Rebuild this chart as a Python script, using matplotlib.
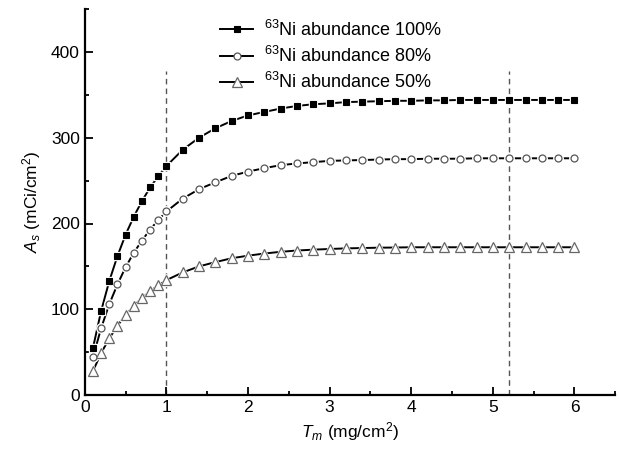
import numpy as np
import matplotlib.pyplot as plt
from matplotlib.ticker import MultipleLocator

plt.rcParams["font.family"] = ["Liberation Sans", "DejaVu Sans"]
plt.rcParams["mathtext.fontset"] = "custom"
plt.rcParams["mathtext.rm"] = "Liberation Sans"
plt.rcParams["mathtext.it"] = "Liberation Sans:italic"

# thickness Tm (mg/cm2): 0.1 steps up to 1, then 0.2 steps up to 6
tm = [0.1, 0.2, 0.3, 0.4, 0.5, 0.6, 0.7, 0.8, 0.9, 1.0,
      1.2, 1.4, 1.6, 1.8, 2.0, 2.2, 2.4, 2.6, 2.8, 3.0,
      3.2, 3.4, 3.6, 3.8, 4.0, 4.2, 4.4, 4.6, 4.8, 5.0,
      5.2, 5.4, 5.6, 5.8, 6.0]

as_100 = [55, 98, 133, 162, 187, 208, 226, 242, 255, 267,
          286, 300, 311, 319.5, 326, 330, 334, 337, 339, 340,
          341.5, 342, 342.5, 343, 343, 343.5, 343.5, 344, 344, 344,
          344, 344, 344, 344, 344]
as_80 = [44, 78, 106, 129, 149, 166, 180, 193, 204, 214,
         229, 240, 248, 255.5, 260.5, 264.5, 268, 270, 271.5, 273,
         273.5, 274, 274.5, 275, 275, 275.5, 275.5, 275.5, 276, 276,
         276, 276, 276, 276, 276]
as_50 = [28, 49, 66, 81, 93, 104, 113, 121, 128, 134,
         143, 150, 155, 159.5, 162.5, 165, 167, 168.5, 169.5, 170.3,
         171, 171.4, 171.8, 172, 172.3, 172.3, 172.3, 172.3, 172.3, 172.3,
         172.3, 172.3, 172.3, 172.3, 172.3]

labels = [r"$^{63}$Ni abundance 100%", r"$^{63}$Ni abundance 80%",
          r"$^{63}$Ni abundance 50%"]
guide_x = [1.0, 5.2]

fig = plt.figure(figsize=(6.19, 4.5), dpi=100)
ax = fig.add_axes([0.137, 0.122, 0.857, 0.858])

styles = [
    dict(marker="s", ms=4.5, mfc="black", mec="black", mew=0.8),
    dict(marker="o", ms=5.0, mfc="white", mec="#555555", mew=0.9),
    dict(marker="^", ms=7.5, mfc="white", mec="#666666", mew=0.9),
]
for y, lab, st in zip([as_100, as_80, as_50], labels, styles):
    # white halo under markers gives the Origin-style gap in the line
    ax.plot(tm, y, ls="none", marker=st["marker"], ms=st["ms"] + 1.8,
            mfc="white", mec="white", zorder=2)
    ax.plot(tm, y, color="black", lw=1.4, ls="-", zorder=1)
    ax.plot(tm, y, ls="none", zorder=3, **st)
    ax.plot([], [], color="black", lw=1.4, label=lab, **st)

ax.vlines(guide_x, 0, 378, colors="#555555", linestyles=(0, (4, 3)), lw=1.0, zorder=0)

ax.set_xlim(0, 6.5)
ax.set_ylim(0, 450)
ax.xaxis.set_major_locator(MultipleLocator(1))
ax.xaxis.set_minor_locator(MultipleLocator(0.5))
ax.yaxis.set_major_locator(MultipleLocator(100))
ax.yaxis.set_minor_locator(MultipleLocator(50))
ax.set_yticks([0, 100, 200, 300, 400])
ax.tick_params(which="both", direction="in", width=1.3, labelsize=12.5)
ax.tick_params(which="major", length=6)
ax.tick_params(which="minor", length=3)
for side in ["top", "right"]:
    ax.spines[side].set_visible(False)
for side in ["left", "bottom"]:
    ax.spines[side].set_linewidth(1.6)

ax.set_xlabel(r"$T_m$ (mg/cm$^2$)", fontsize=12.5, labelpad=4)
ax.set_ylabel(r"$A_s$ (mCi/cm$^2$)", fontsize=12.5, labelpad=6)

ax.legend(loc="upper left", bbox_to_anchor=(0.225, 1.015), frameon=False,
          fontsize=13, handlelength=1.8, handletextpad=0.6, labelspacing=0.35)

fig.savefig("out.png", dpi=100)
